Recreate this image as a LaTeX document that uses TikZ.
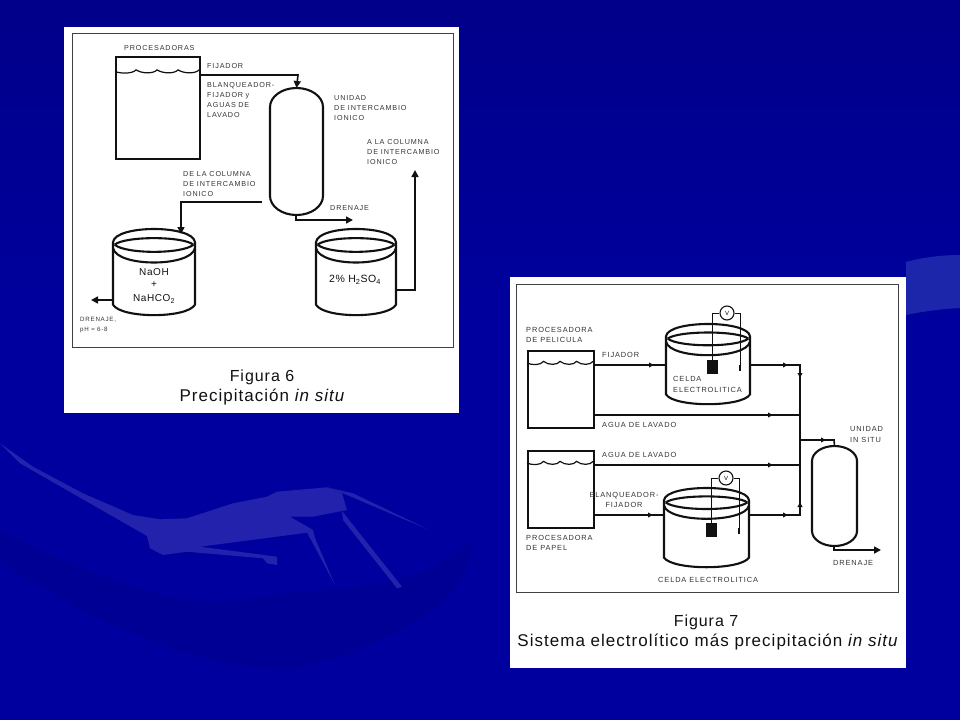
\documentclass[tikz,border=0pt]{standalone}
\usepackage{fontspec}
\setmainfont{Liberation Sans}
\usetikzlibrary{arrows.meta,calc}
\definecolor{bgblue}{HTML}{00009E}
\definecolor{bgtop}{HTML}{00008A}
\definecolor{bgdark}{HTML}{000094}
\definecolor{swA}{HTML}{2222AC}
\definecolor{swB}{HTML}{1C26AA}
\definecolor{ink}{HTML}{111111}
\newfontface\lab[LetterSpace=12]{Liberation Sans}
\newfontface\capf[LetterSpace=6]{Liberation Sans}
\newfontface\capi[LetterSpace=6]{Liberation Sans Italic}
\tikzset{
  x=1pt,y=-1pt,
  panel/.style={fill=white,draw=none},
  frame/.style={draw=ink!80,line width=1pt},
  thick line/.style={draw=ink,line width=2.1pt},
  pipe/.style={draw=ink,line width=1.6pt},
  flow/.style={pipe,-{Triangle[length=7pt,width=7pt]}},
  thinw/.style={draw=ink,line width=0.9pt},
  tag/.style={font=\fontsize{7.2}{10}\lab,text=ink!85,align=left,anchor=north west,inner sep=0pt},
  tagb/.style={tag,font=\fontsize{7.4}{10.5}\lab},
  capt/.style={font=\fontsize{16}{20}\capf,text=ink,inner sep=0pt},
  capu/.style={font=\fontsize{17}{20}\capf,text=ink,inner sep=0pt},
  chem/.style={font=\fontsize{10}{12}\capf,text=ink,inner sep=0pt},
  meter/.style={draw=ink,fill=white,circle,line width=1.1pt,minimum size=14pt,inner sep=0pt,font=\fontsize{6}{6}\selectfont},
  plate/.style={fill=ink,minimum width=11pt,minimum height=14pt,inner sep=0pt,anchor=north west},
  procbox/.style={thick line,draw,inner sep=0pt,anchor=north west},
}
% tank: left x, right x, top y, bottom y
\newcommand{\tank}[4]{%
  \pgfmathsetmacro{\hh}{#4-#3}
  \pgfmathsetmacro{\ww}{#2-#1}
  \pgfmathsetmacro{\cyy}{#3+0.15*\hh}
  % back of the rim
  \draw[thick line] (#1,\cyy) .. controls ({#1+0.03*\ww},{#3-0.05*\hh}) and ({#2-0.03*\ww},{#3-0.05*\hh}) .. (#2,\cyy);
  % inner lens
  \draw[thick line] ({#1+0.02*\ww},{\cyy+0.03*\hh}) .. controls ({#1+0.15*\ww},{#3+0.08*\hh}) and ({#2-0.15*\ww},{#3+0.08*\hh}) .. ({#2-0.02*\ww},{\cyy+0.03*\hh});
  \draw[thick line] ({#1+0.02*\ww},{\cyy+0.03*\hh}) .. controls ({#1+0.15*\ww},{#3+0.29*\hh}) and ({#2-0.15*\ww},{#3+0.29*\hh}) .. ({#2-0.02*\ww},{\cyy+0.03*\hh});
  % front of the rim
  \draw[thick line] (#1,{\cyy+0.07*\hh}) .. controls ({#1+0.05*\ww},{#3+0.44*\hh}) and ({#2-0.05*\ww},{#3+0.44*\hh}) .. (#2,{\cyy+0.07*\hh});
  % wall and floor
  \draw[thick line] (#1,\cyy) -- (#1,{#4-0.13*\hh}) .. controls ({#1+0.1*\ww},{#4+0.03*\hh}) and ({#2-0.1*\ww},{#4+0.03*\hh}) .. (#2,{#4-0.13*\hh}) -- (#2,\cyy);
}
% water surface of a processor: left x, right x, y
\newcommand{\waves}[3]{%
  \pgfmathsetmacro{\stp}{(#2-#1)/4}
  \draw[draw=ink,line width=1.2pt] (#1,#3)
    \foreach \ii in {1,2,3,4}{ .. controls ({#1+\stp*(\ii-0.7)},{#3+2.4}) and ({#1+\stp*(\ii-0.15)},{#3+2.2}) .. ({#1+\stp*\ii},{#3-1.6}) };
}
% capsule column: left, right, top, bottom; named coordinate #5 at its top
\newcommand{\column}[5]{%
  \pgfmathsetmacro{\capy}{0.15*(#4-#3)}
  \pgfmathsetmacro{\ww}{#2-#1}
  \draw[thick line] (#1,{#3+\capy}) .. controls (#1,{#3+0.45*\capy}) and ({#1+0.225*\ww},#3) .. ({(#1+#2)/2},#3)
    .. controls ({#2-0.225*\ww},#3) and (#2,{#3+0.45*\capy}) .. (#2,{#3+\capy})
    -- (#2,{#4-\capy}) .. controls (#2,{#4-0.45*\capy}) and ({#2-0.225*\ww},#4) .. ({(#1+#2)/2},#4)
    .. controls ({#1+0.225*\ww},#4) and (#1,{#4-0.45*\capy}) .. (#1,{#4-\capy}) -- cycle;
  \coordinate (#5) at ({(#1+#2)/2},#3);
}
\begin{document}
\begin{tikzpicture}
\useasboundingbox (0,0) rectangle (960,720);
\fill[bgblue] (0,0) rectangle (960,720);
\shade[top color=bgtop,bottom color=bgblue] (0,0) rectangle (960,330);
% darker hollows under the swoosh
\fill[bgdark] (0,530) .. controls (80,570) and (170,610) .. (240,600) .. controls (290,585) and (420,600) .. (470,540) .. controls (480,600) and (380,650) .. (290,670) .. controls (190,670) and (70,610) .. (0,560) -- cycle;
% pale swoosh (lower left)
\fill[swA] (0,443.3) -- (33,466.7) -- (83,493.3) -- (133,515) -- (160,519.3) -- (187,518.3)
  -- (233,503.3) -- (267,496.7) -- (277,491.7) -- (327,487.3) -- (342,493) -- (347,510)
  -- (313,516.7) -- (290,516.7) -- (313,530) -- (315,538) -- (335,585) -- (312,541.7) -- (307,532.7)
  -- (200,546.7) -- (277,556.7) -- (277,565) -- (267,563.3) -- (263,558.3) -- (187,551.7)
  -- (163,555) -- (150,548.3) -- (147,536) -- (20,463.3) -- cycle;
\fill[swA] (327,487.3) -- (353,493.3) -- (428,529.3) -- (390,513.3) -- (343,493.3) -- cycle;
\fill[swA] (342,511) -- (402,586.7) -- (397,588.3) -- (343,520) -- cycle;
% pale swoosh (right edge)
\fill[swB] (906,262) .. controls (920,258) and (940,255) .. (960,255) -- (960,308) .. controls (940,309) and (920,312) .. (906,315) -- cycle;

%%%%% Figure 6
\fill[panel] (64,27) rectangle (459,413);
\draw[frame] (72.5,33) rectangle (453.5,347);
\node[tag] (t1) at (124,45.5) {PROCESADORAS};
\node[procbox,minimum width=84pt,minimum height=102pt] (proc) at (115,56) {};
\waves{115}{199}{71.5}
\coordinate (pA) at (199,75); \coordinate (pB) at (298,75);
\column{270}{323}{88}{215}{col}
\draw[flow] (pA) -- (pB) -- (col);
\node[tag] at (207,63) {FIJADOR};
\node[tag,text width=70pt] at (207,82.5) {BLANQUEADOR-\\FIJADOR y\\AGUAS DE\\LAVADO};
\node[tag] at (334,95.5) {UNIDAD\\DE INTERCAMBIO\\IONICO};
\node[tag] at (367,139) {A LA COLUMNA\\DE INTERCAMBIO\\IONICO};
\node[tag] at (183,171) {DE LA COLUMNA\\DE INTERCAMBIO\\IONICO};
\node[tag] at (330,205.5) {DRENAJE};
\coordinate (d1) at (296,215); \coordinate (d2) at (296,220); \coordinate (d3) at (353,220);
\draw[flow] (d1) -- (d2) -- (d3);
\tank{113}{195}{229}{316}
\tank{316}{396}{229}{316}
\coordinate (lA) at (262,202); \coordinate (lB) at (181,202); \coordinate (lC) at (181,234);
\draw[flow] (lA) -- (lB) -- (lC);
\coordinate (dlA) at (113,300); \coordinate (dlB) at (91,300);
\draw[flow] (dlA) -- (dlB);
\coordinate (rA) at (396,290); \coordinate (rB) at (415,290); \coordinate (rC) at (415,170);
\draw[flow] (rA) -- (rB) -- (rC);
\node[chem] at (154,272) {NaOH};
\node[chem] at (154,285) {+};
\node[chem] at (154,299) {NaHCO\textsubscript{2}};
\node[chem,font=\fontsize{10.5}{12}\capf] at (355,280) {2\% H\textsubscript{2}SO\textsubscript{4}};
\node[tag,font=\fontsize{6.2}{10}\lab] at (80,317) {DRENAJE,\\pH ≈ 6-8};
\node[capt] at (262,377) {Figura 6};
\node[capu] at (262,397) {Precipitación {\capi in situ}};

%%%%% Figure 7
\fill[panel] (510,277) rectangle (906,668);
\draw[frame] (516,284) rectangle (898,592);
\node[tagb] at (526,327) {PROCESADORA\\DE PELICULA};
\node[procbox,minimum width=66pt,minimum height=77pt] (p1) at (527,350) {};
\waves{527}{593}{363}
\node[procbox,minimum width=66pt,minimum height=77pt] (p2) at (527,450) {};
\waves{527}{593}{463}
\node[tagb] at (526,535) {PROCESADORA\\DE PAPEL};
\column{812}{857}{446}{546}{col2}
\tank{666}{750}{324}{405}
\tank{664}{749}{488}{568}
% cell 1 instruments
\node[meter] (v1) at (727,313) {V};
\node[plate] (e1) at (707,360) {};
\coordinate (e1a) at (740,365); \coordinate (e1b) at (740,371);
\draw[thinw] (v1.west) -| (e1.north -| 712,0);
\draw[thinw] (v1.east) -| (e1a);
\draw[pipe,line width=2.4pt] (e1a) -- (e1b);
% cell 2 instruments
\node[meter] (v2) at (726,478) {V};
\node[plate] (e2) at (706,523) {};
\coordinate (e2a) at (739,528); \coordinate (e2b) at (739,534);
\draw[thinw] (v2.west) -| (e2.north -| 711,0);
\draw[thinw] (v2.east) -| (e2a);
\draw[pipe,line width=2.4pt] (e2a) -- (e2b);
% pipes
\coordinate (j1) at (800,365); \coordinate (j2) at (800,415); \coordinate (j3) at (800,440);
\coordinate (j4) at (800,465); \coordinate (j5) at (800,515);
\coordinate (c1) at (593,365); \coordinate (c2) at (666,365); \coordinate (c3) at (750,365);
\coordinate (c4) at (593,415); \coordinate (c5) at (593,465);
\coordinate (c6) at (593,515); \coordinate (c7) at (664,515); \coordinate (c8) at (749,515);
\draw[pipe] (c1) -- (c2);
\draw[pipe] (c6) -- (c7);
\draw[pipe] (c3) -- (j1) -- (j5) -- (c8);
\draw[pipe] (c4) -- (j2);
\draw[pipe] (c5) -- (j4);
\draw[pipe] (j3) -- (834,440) -- (col2);
\coordinate (o1) at (834,546); \coordinate (o2) at (834,550); \coordinate (o3) at (881,550);
\draw[flow] (o1) -- (o2) -- (o3);
% inline arrow markers
\foreach \mx/\my/\rot in {651/365/0,785/365/0,770/415/0,770/465/0,785/515/0,650/515/0,823/440/0,800/375/-90,800/505/90}{
  \fill[ink,shift={(\mx,\my)},rotate=\rot,yscale=-1] (-2,-2.6) -- (2.6,0) -- (-2,2.6) -- cycle;
}
\node[tagb] at (602,352.5) {FIJADOR};
\node[tagb] at (602,422.5) {AGUA DE LAVADO};
\node[tagb] at (602,452.5) {AGUA DE LAVADO};
\node[tagb,align=center,anchor=north] at (624,492) {BLANQUEADOR-\\FIJADOR};
\node[tagb] at (673,376.5) {CELDA\\ELECTROLITICA};
\node[tagb] at (658,577.5) {CELDA ELECTROLITICA};
\node[tagb] at (850,426.5) {UNIDAD\\IN SITU};
\node[tagb] at (833,560.5) {DRENAJE};
\node[capt] at (706,622) {Figura 7};
\node[capu] at (707.5,642) {Sistema electrolítico más precipitación {\capi in situ}};
\end{tikzpicture}
\end{document}
